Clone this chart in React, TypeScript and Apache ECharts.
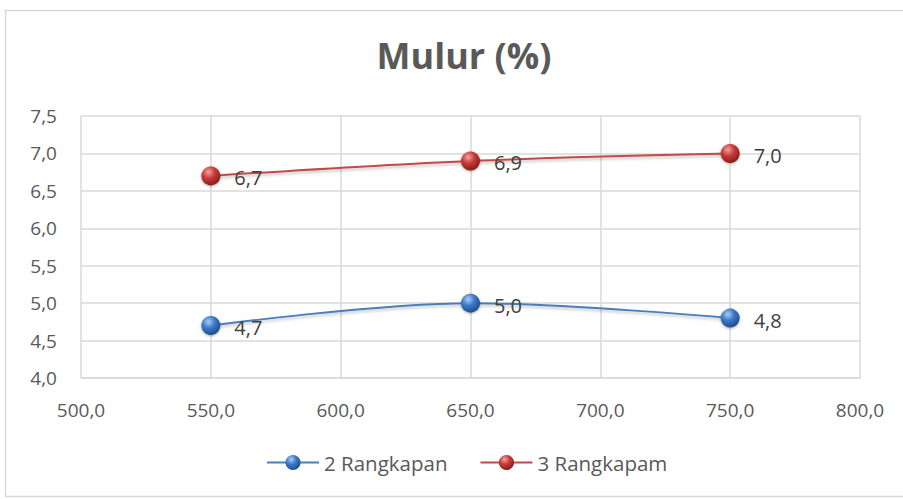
import React, { useEffect, useRef } from "react";
import * as echarts from "echarts";

const xValues = [550, 650, 750];
const series2 = [4.7, 5.0, 4.8];
const series3 = [6.7, 6.9, 7.0];
const seriesNames = ["2 Rangkapan", "3 Rangkapam"];
const titleText = "Mulur (%)";

const fmt = (v: number) => v.toFixed(1).replace(".", ",");

const sphere = (light: string, base: string, dark: string) =>
  new echarts.graphic.RadialGradient(0.38, 0.3, 0.75, [
    { offset: 0, color: light },
    { offset: 0.45, color: base },
    { offset: 1, color: dark },
  ]);

export default function App() {
  const ref = useRef<HTMLDivElement>(null);
  useEffect(() => {
    if (!ref.current) return;
    const chart = echarts.init(ref.current, null, { renderer: "svg" });
    const mk = (name: string, vals: number[], line: string, light: string, base: string, dark: string) => ({
      name,
      type: "line",
      data: xValues.map((x, i) => [x, vals[i]]),
      smooth: 0.35,
      symbol: "circle",
      symbolSize: 19,
      lineStyle: { color: line, width: 2, shadowBlur: 3, shadowColor: "rgba(0,0,0,0.25)", shadowOffsetY: 2 },
      itemStyle: { color: sphere(light, base, dark), borderWidth: 0, shadowBlur: 3, shadowColor: "rgba(0,0,0,0.3)", shadowOffsetY: 1 },
      label: {
        show: true,
        position: "right",
        distance: 14,
        offset: [0, 2],
        formatter: (p: any) => fmt(p.value[1]),
        fontFamily: "Open Sans",
        fontSize: 20,
        color: "#404040",
      },
    });
    chart.setOption({
      animation: false,
      backgroundColor: "#fff",
      title: {
        text: titleText,
        left: 459,
        textAlign: "center",
        top: 32,
        textStyle: { fontFamily: "Open Sans", fontWeight: "bold", fontSize: 36, color: "#595959" },
      },
      graphic: [
        {
          type: "rect",
          shape: { x: 5.5, y: 10.5, width: 903, height: 486 },
          style: { fill: "none", stroke: "#d9d9d9", lineWidth: 1.5 },
          silent: true,
        },
      ],
      legend: {
        bottom: 21,
        left: 261,
        itemWidth: 52,
        itemHeight: 19,
        itemGap: 32,
        textStyle: { fontFamily: "Open Sans", fontSize: 20.5, color: "#595959" },
        data: seriesNames,
      },
      grid: { left: 81, right: 43, top: 116, bottom: 121 },
      xAxis: {
        type: "value",
        min: 500,
        max: 800,
        interval: 50,
        axisLine: { show: true, lineStyle: { color: "#d9d9d9", width: 1.5 } },
        axisTick: { show: false },
        splitLine: { show: true, lineStyle: { color: "#d9d9d9", width: 1.5 } },
        axisLabel: { formatter: fmt, margin: 22, fontFamily: "Open Sans", fontSize: 19, color: "#595959" },
      },
      yAxis: {
        type: "value",
        min: 4.0,
        max: 7.5,
        interval: 0.5,
        axisLine: { show: false },
        axisTick: { show: false },
        splitLine: { show: true, lineStyle: { color: "#d9d9d9", width: 1.5 } },
        axisLabel: { formatter: fmt, margin: 24, fontFamily: "Open Sans", fontSize: 19, color: "#595959" },
      },
      series: [
        mk(seriesNames[0], series2, "#4a7ebb", "#a9cdf5", "#3a78c8", "#1c4a85"),
        mk(seriesNames[1], series3, "#be4b48", "#f2a2a0", "#c83a37", "#7e1c1a"),
      ],
    });
    return () => chart.dispose();
  }, []);
  return <div ref={ref} style={{ width: 903, height: 499, position: "absolute", left: 0, top: 0 }} />;
}
